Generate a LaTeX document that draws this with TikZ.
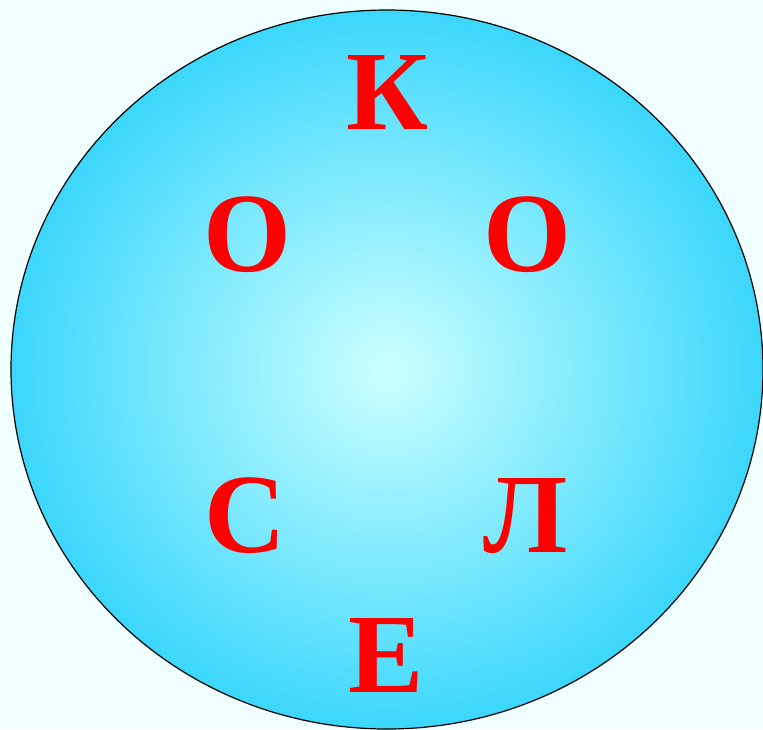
\documentclass[tikz,border=0pt]{standalone}
\usepackage{fontspec}
\setmainfont{LiberationSerif}[Extension=.ttf,UprightFont=*-Regular,BoldFont=*-Bold]
\definecolor{bgc}{HTML}{F0FFFF}
\definecolor{innerc}{HTML}{CCFFFF}
\definecolor{outerc}{HTML}{3CD7FC}
\definecolor{letc}{HTML}{FF0000}
\tikzset{letter/.style={text=letc,font=\fontsize{113}{113}\selectfont\bfseries,inner sep=0pt,anchor=base}}
\begin{document}
\begin{tikzpicture}[x=1pt,y=-1pt]
\fill[bgc] (0,0) rectangle (763,729);
\useasboundingbox (0,0) rectangle (763,729);
\shade[inner color=innerc,outer color=outerc] (387,369.5) ellipse [x radius=376,y radius=359.5];
\draw[black,line width=1.2pt] (387,369.5) ellipse [x radius=376,y radius=359.5];
\node[letter] (k) at (387,129.5) {К};
\node[letter] (o1) at (247,271) {О};
\node[letter] (o2) at (527,271) {О};
\node[letter] (s) at (245,552) {С};
\node[letter] (l) at (526,552) {Л};
\node[letter] (e) at (386,692.5) {Е};
\end{tikzpicture}
\end{document}
